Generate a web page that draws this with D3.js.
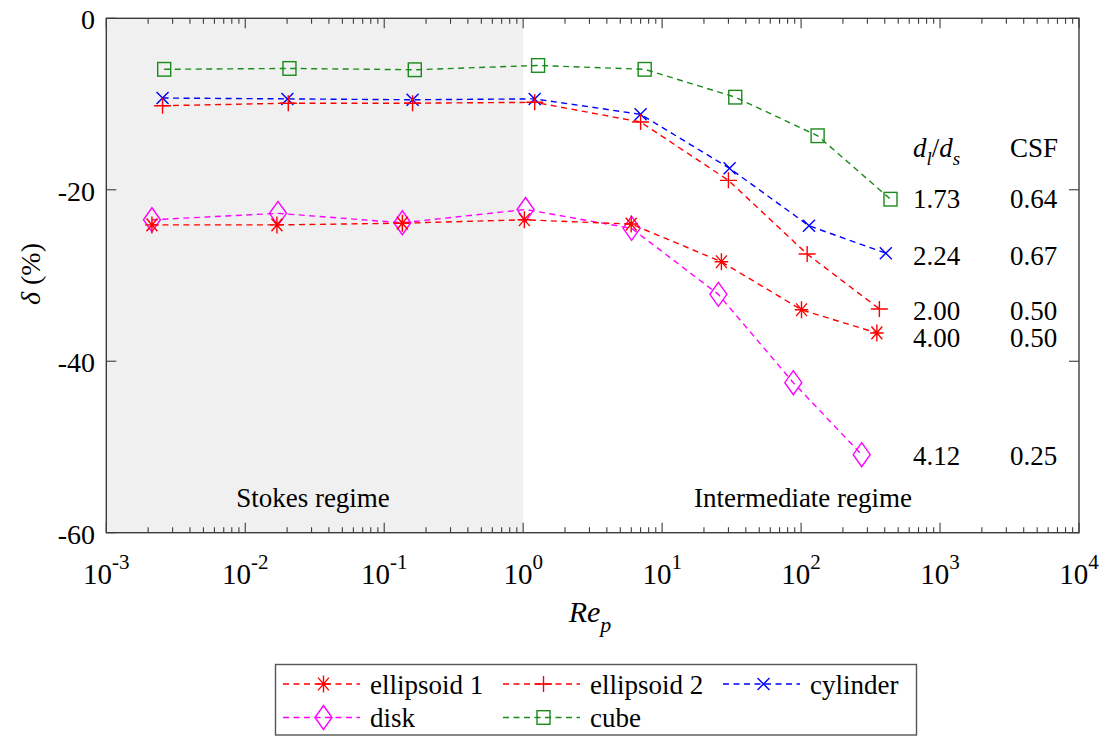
<!DOCTYPE html>
<html>
<head>
<meta charset="utf-8">
<script src="https://cdn.jsdelivr.net/npm/d3@7"></script>
<style>
  html, body { margin: 0; padding: 0; background: #fff; }
  svg { display: block; }
</style>
</head>
<body>
<svg id="chart" width="1107" height="738"></svg>
<script>
// ---- data -------------------------------------------------------------
const seriesNames = ["ellipsoid 1", "ellipsoid 2", "cylinder", "disk", "cube"];

const ellipsoid1Re    = [0.00213, 0.0169, 0.135, 1.02, 5.99, 26.7, 100.7, 351];
const ellipsoid1Delta = [-24.1, -24.1, -23.9, -23.5, -24.0, -28.4, -34.0, -36.7];

const ellipsoid2Re    = [0.00254, 0.0204, 0.16, 1.21, 7.0, 30.0, 110.6, 366];
const ellipsoid2Delta = [-10.2, -9.9, -9.9, -9.8, -12.1, -18.9, -27.5, -33.9];

const cylinderRe      = [0.00254, 0.0201, 0.16, 1.21, 7.0, 30.6, 114, 407];
const cylinderDelta   = [-9.3, -9.4, -9.5, -9.4, -11.2, -17.5, -24.2, -27.4];

const diskRe          = [0.00213, 0.0172, 0.135, 1.04, 6.03, 25.4, 87.9, 273];
const diskDelta       = [-23.5, -22.75, -23.85, -22.3, -24.5, -32.2, -42.5, -50.9];

const cubeRe          = [0.00261, 0.0208, 0.166, 1.28, 7.49, 33.6, 131.5, 440];
const cubeDelta       = [-5.95, -5.85, -6.0, -5.5, -5.95, -9.2, -13.7, -21.1];

const yTickValues = [0, -20, -40, -60];
const yTickLabels = ["0", "-20", "-40", "-60"];
const xTickExponents = ["-3", "-2", "-1", "0", "1", "2", "3", "4"];

// shape-ratio table shown at the right of the plot
const ratioLabels = ["1.73", "2.24", "2.00", "4.00", "4.12"];
const csfLabels   = ["0.64", "0.67", "0.50", "0.50", "0.25"];

const stokesLimit = 1; // Re_p upper bound of the Stokes regime

// ---- layout -----------------------------------------------------------
const svg = d3.select("#chart");
const plotLeft = 106.3, plotRight = 1079, plotTop = 18.3, plotBottom = 532.7;
const serif = "'Liberation Serif', 'Times New Roman', serif";

const x = d3.scaleLog().domain([1e-3, 1e4]).range([plotLeft, plotRight]);
const y = d3.scaleLinear().domain([-60, 0]).range([plotBottom, plotTop]);

const axisColor = "#3c3c3c";

// shaded Stokes-regime band
svg.append("rect")
  .attr("x", x(1e-3)).attr("y", plotTop)
  .attr("width", x(stokesLimit) - x(1e-3)).attr("height", plotBottom - plotTop)
  .attr("fill", "#f0f0f0");

// ---- ticks ------------------------------------------------------------
const logTicks = x.ticks();
const isMajor = v => Math.abs(Math.log10(v) - Math.round(Math.log10(v))) < 1e-9;
const tickG = svg.append("g").attr("stroke", axisColor).attr("stroke-width", 1.1);
logTicks.forEach(v => {
  const len = isMajor(v) ? 10 : 5.5;
  const px = x(v);
  tickG.append("line").attr("x1", px).attr("x2", px).attr("y1", plotBottom).attr("y2", plotBottom - len);
  tickG.append("line").attr("x1", px).attr("x2", px).attr("y1", plotTop).attr("y2", plotTop + len);
});
yTickValues.forEach(v => {
  const py = y(v);
  tickG.append("line").attr("x1", plotLeft).attr("x2", plotLeft + 10).attr("y1", py).attr("y2", py);
  tickG.append("line").attr("x1", plotRight).attr("x2", plotRight - 10).attr("y1", py).attr("y2", py);
});

// axes frame
svg.append("rect")
  .attr("x", plotLeft).attr("y", plotTop).attr("width", plotRight - plotLeft).attr("height", plotBottom - plotTop)
  .attr("fill", "none").attr("stroke", axisColor).attr("stroke-width", 1.4);

// every text node uses the serif face
function label(sel) { return sel.style("font-family", serif).attr("fill", "#000"); }

// y tick labels
label(svg.append("g").selectAll("text").data(yTickValues).join("text"))
  .attr("x", 95).attr("y", d => y(d) + 11)
  .attr("text-anchor", "end").attr("font-size", 28)
  .text((d, i) => yTickLabels[i]);

// x tick labels: powers of ten with superscript exponent
const majors = logTicks.filter(isMajor);
const xl = label(svg.append("g").selectAll("text").data(majors).join("text"))
  .attr("x", d => x(d)).attr("y", 584)
  .attr("text-anchor", "middle").attr("font-size", 29);
xl.append("tspan").text("10");
xl.append("tspan").attr("font-size", 21).attr("dy", -15)
  .text((d, i) => xTickExponents[i]);

// axis titles
const xt = label(svg.append("text")).attr("x", 590).attr("y", 622).attr("text-anchor", "middle")
  .attr("font-size", 30).attr("font-style", "italic");
xt.append("tspan").text("Re");
xt.append("tspan").attr("font-size", 22).attr("dy", 10).text("p");

const yt = label(svg.append("text")).attr("transform", "translate(40,274) rotate(-90)")
  .attr("text-anchor", "middle").attr("font-size", 28);
yt.append("tspan").attr("font-style", "italic").text("δ");
yt.append("tspan").text(" (%)");

// regime labels
label(svg.append("text")).attr("x", 313).attr("y", 507).attr("text-anchor", "middle")
  .attr("font-size", 27).text("Stokes regime");
label(svg.append("text")).attr("x", 803).attr("y", 507).attr("text-anchor", "middle")
  .attr("font-size", 27).text("Intermediate regime");

// ---- markers ----------------------------------------------------------
function drawMarker(g, kind, cx, cy, color) {
  const m = g.append("g").attr("transform", `translate(${cx},${cy})`)
    .attr("stroke", color).attr("fill", "none").attr("stroke-width", 1.4);
  if (kind === "asterisk") {
    const rx = 6.8, ry = 8.5;
    m.append("path").attr("d",
      `M0,${-ry}V${ry}M${-rx},0H${rx}M${-rx*0.8},${-ry*0.75}L${rx*0.8},${ry*0.75}M${-rx*0.8},${ry*0.75}L${rx*0.8},${-ry*0.75}`);
  } else if (kind === "plus") {
    m.append("path").attr("d", "M0,-8V8M-8.5,0H8.5");
  } else if (kind === "cross") {
    m.append("path").attr("d", "M-6,-6L6,6M-6,6L6,-6");
  } else if (kind === "diamond") {
    m.append("path").attr("d", "M0,-12L8.5,0L0,12L-8.5,0Z");
  } else if (kind === "square") {
    m.append("rect").attr("x", -6.5).attr("y", -6.8).attr("width", 13).attr("height", 13.6);
  }
}

const series = [
  { name: seriesNames[0], re: ellipsoid1Re, delta: ellipsoid1Delta, color: "#ff0000", marker: "asterisk" },
  { name: seriesNames[1], re: ellipsoid2Re, delta: ellipsoid2Delta, color: "#ff0000", marker: "plus" },
  { name: seriesNames[2], re: cylinderRe,   delta: cylinderDelta,   color: "#0000ff", marker: "cross" },
  { name: seriesNames[3], re: diskRe,       delta: diskDelta,       color: "#ff00ff", marker: "diamond" },
  { name: seriesNames[4], re: cubeRe,       delta: cubeDelta,       color: "#1a8a1a", marker: "square" }
];

const line = d3.line().x(d => x(d[0])).y(d => y(d[1]));
const dash = "6,4.5";

// draw in reverse so the red series sit on top
series.slice().reverse().forEach(s => {
  const pts = s.re.map((r, i) => [r, s.delta[i]]);
  const g = svg.append("g");
  g.append("path").attr("d", line(pts)).attr("fill", "none")
    .attr("stroke", s.color).attr("stroke-width", 1.4).attr("stroke-dasharray", dash);
  pts.forEach(p => drawMarker(g, s.marker, x(p[0]), y(p[1]), s.color));
});

// ---- shape-ratio table ------------------------------------------------
const hdr = label(svg.append("text")).attr("x", 913).attr("y", 157).attr("font-size", 27);
hdr.append("tspan").attr("font-style", "italic").text("d");
hdr.append("tspan").attr("font-style", "italic").attr("font-size", 19).attr("dy", 8).text("l");
hdr.append("tspan").attr("dy", -8).text("/");
hdr.append("tspan").attr("font-style", "italic").text("d");
hdr.append("tspan").attr("font-style", "italic").attr("font-size", 19).attr("dy", 8).text("s");
label(svg.append("text")).attr("x", 1010).attr("y", 157).attr("font-size", 27).text("CSF");

const rowBaselines = [207.5, 265, 320, 347, 465];
label(svg.append("g").selectAll("text").data(ratioLabels).join("text"))
  .attr("x", 913).attr("y", (d, i) => rowBaselines[i]).attr("font-size", 27).text(d => d);
label(svg.append("g").selectAll("text").data(csfLabels).join("text"))
  .attr("x", 1010).attr("y", (d, i) => rowBaselines[i]).attr("font-size", 27).text(d => d);

// ---- legend -----------------------------------------------------------
const legend = svg.append("g");
legend.append("rect").attr("x", 275.5).attr("y", 664.5).attr("width", 641).attr("height", 70.5)
  .attr("fill", "#fff").attr("stroke", "#555").attr("stroke-width", 1.4);
const legendCols = [283, 503, 723];
const legendRows = [684, 717.5];
series.forEach((s, i) => {
  const col = legendCols[i % 3], row = legendRows[Math.floor(i / 3)];
  legend.append("line").attr("x1", col).attr("x2", col + 77).attr("y1", row).attr("y2", row)
    .attr("stroke", s.color).attr("stroke-width", 1.4).attr("stroke-dasharray", dash);
  drawMarker(legend, s.marker, col + 40.5, row, s.color);
  label(legend.append("text")).attr("x", col + 87).attr("y", row + 9.5)
    .attr("font-size", 27).text(s.name);
});
</script>
</body>
</html>
